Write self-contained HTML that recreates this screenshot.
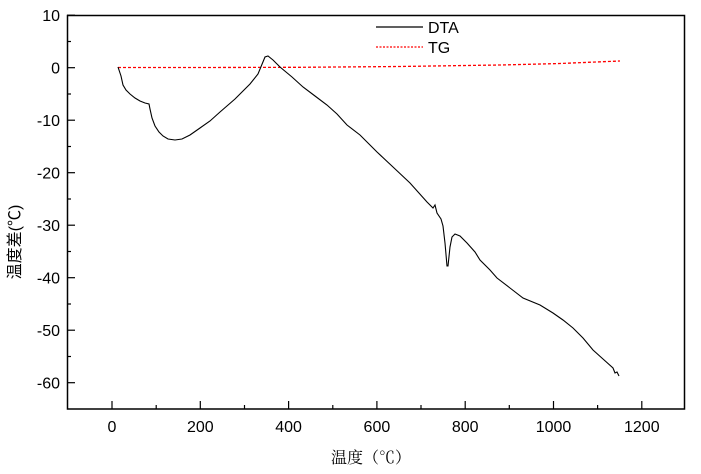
<!DOCTYPE html>
<html><head><meta charset="utf-8"><style>
body{margin:0;background:#fff;}
svg{display:block;font-family:"Liberation Sans","Noto Sans CJK SC",sans-serif;}
</style></head><body>
<svg width="701" height="474" viewBox="0 0 701 474" xmlns="http://www.w3.org/2000/svg">
<rect x="67.5" y="15.5" width="617" height="393.5" fill="none" stroke="#000" stroke-width="1.5"/>
<g stroke="#000" stroke-width="1.2">
<line x1="112" y1="409" x2="112" y2="401"/><line x1="200.3" y1="409" x2="200.3" y2="401"/>
<line x1="288.6" y1="409" x2="288.6" y2="401"/><line x1="376.9" y1="409" x2="376.9" y2="401"/>
<line x1="465.2" y1="409" x2="465.2" y2="401"/><line x1="553.5" y1="409" x2="553.5" y2="401"/>
<line x1="641.8" y1="409" x2="641.8" y2="401"/>
<line x1="156.2" y1="409" x2="156.2" y2="405"/><line x1="244.5" y1="409" x2="244.5" y2="405"/>
<line x1="332.8" y1="409" x2="332.8" y2="405"/><line x1="421" y1="409" x2="421" y2="405"/>
<line x1="509.3" y1="409" x2="509.3" y2="405"/><line x1="597.6" y1="409" x2="597.6" y2="405"/>
<line x1="67" y1="15.2" x2="75" y2="15.2"/><line x1="67" y1="67.7" x2="75" y2="67.7"/>
<line x1="67" y1="120.2" x2="75" y2="120.2"/><line x1="67" y1="172.7" x2="75" y2="172.7"/>
<line x1="67" y1="225.2" x2="75" y2="225.2"/><line x1="67" y1="277.7" x2="75" y2="277.7"/>
<line x1="67" y1="330.2" x2="75" y2="330.2"/><line x1="67" y1="382.7" x2="75" y2="382.7"/>
<line x1="67" y1="41.5" x2="71" y2="41.5"/><line x1="67" y1="94" x2="71" y2="94"/>
<line x1="67" y1="146.5" x2="71" y2="146.5"/><line x1="67" y1="199" x2="71" y2="199"/>
<line x1="67" y1="251.5" x2="71" y2="251.5"/><line x1="67" y1="304" x2="71" y2="304"/>
<line x1="67" y1="356.5" x2="71" y2="356.5"/>
</g>
<g font-size="16" fill="#000" text-anchor="end">
<text x="60" y="21">10</text><text x="60" y="73.5">0</text><text x="60" y="126">-10</text>
<text x="60" y="178.5">-20</text><text x="60" y="231">-30</text><text x="60" y="283.5">-40</text>
<text x="60" y="336">-50</text><text x="60" y="388.5">-60</text>
</g>
<g font-size="16" fill="#000" text-anchor="middle">
<text x="112" y="432">0</text><text x="200.3" y="432">200</text><text x="288.6" y="432">400</text>
<text x="376.9" y="432">600</text><text x="465.2" y="432">800</text><text x="553.5" y="432">1000</text>
<text x="641.8" y="432">1200</text>
</g>
<text x="371" y="463" font-size="16" text-anchor="middle" fill="#000" font-family="'Noto Serif CJK SC',serif">温度（℃）</text>
<text transform="translate(20,242) rotate(-90)" font-size="16" text-anchor="middle" fill="#000">温度差(℃)</text>
<polyline fill="none" stroke="#ff0000" stroke-width="1.3" stroke-dasharray="3,2" points="118,67.5 200,67.5 300,67.3 400,66.5 500,65 560,63.5 620,61"/>
<polyline fill="none" stroke="#000" stroke-width="1.1" points="118,67 121,76 123,85 126,90 130,94 135,98 140,101 145,103 149,104 150,109 152,118 155,126 159,132 163,136 168,139 175,140 182,139 190,135 200,128 210,121 220,112 235,99 250,84 258,74 265,57 268,56 273,60 280,67 292,77 303,87 315,96 327,105 337,114 347,125 360,135 377,152 393,167 410,183 427,202 433,208 435,205 437,213 441,219 443,226 445,243 447,266 448,266 450,247 452,237 455,234 460,236 467,243 475,252 480,260 490,270 497,278 510,288 523,298 540,305 553,313 563,320 573,328 583,338 593,350 603,359 613,368 615,373 617,372 619,376"/>
<line x1="376" y1="27" x2="423" y2="27" stroke="#000" stroke-width="1.2"/>
<text x="428" y="33" font-size="16" fill="#000">DTA</text>
<line x1="376" y1="47" x2="423" y2="47" stroke="#ff0000" stroke-width="1.3" stroke-dasharray="2,1.5"/>
<text x="428" y="53" font-size="16" fill="#000">TG</text>
</svg>
</body></html>
